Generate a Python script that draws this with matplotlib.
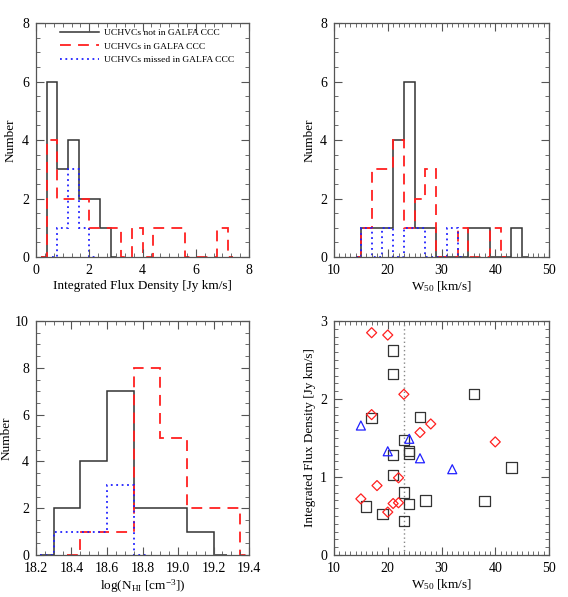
import numpy as np
import matplotlib
matplotlib.use("Agg")
import matplotlib.pyplot as plt
from matplotlib.ticker import MultipleLocator, AutoMinorLocator

plt.rcParams['font.family'] = ['Liberation Serif', 'DejaVu Serif']
plt.rcParams['mathtext.fontset'] = 'custom'
plt.rcParams['mathtext.rm'] = 'Liberation Serif'
plt.rcParams['mathtext.it'] = 'Liberation Serif:italic'

# Histogramy: (pocatek, pocty)
flux_width = 0.4
flux_black = (0.4, [6, 3, 4, 2, 2, 1])
flux_red = (0.4, [4, 2, 2, 2, 1, 1, 1, 0, 1, 0, 1, 1, 1, 0, 0, 0, 1])
flux_blue = (0.8, [1, 3, 1])

w50_width = 2.0
w50_black = (15, [1, 1, 1, 4, 6, 1, 1, 0, 0, 0, 1, 1, 0, 0, 1])
w50_red = (15, [1, 3, 3, 4, 1, 2, 3, 0, 0, 1, 0, 0, 1])
w50_blue = (15, [1, 0, 1, 0, 1, 1, 0, 0, 1])

nhi_width = 0.15
nhi_black = (18.3, [2, 4, 7, 2, 2, 1])
nhi_red = (18.45, [1, 1, 8, 5, 2, 2])
nhi_blue = (18.3, [1, 1, 3])

# Bodovy graf W50 vs. tok
sq_w50 = [21, 21, 36, 17, 26, 23, 24, 24, 21, 43, 21, 23, 27, 38, 24, 16, 19, 23]
sq_flux = [2.62, 2.32, 2.06, 1.76, 1.77, 1.47, 1.33, 1.30, 1.28, 1.12, 1.03,
           0.80, 0.70, 0.69, 0.65, 0.62, 0.53, 0.44]
dm_w50 = [17, 20, 23, 17, 28, 26, 40, 22, 18, 15, 21, 22, 20]
dm_flux = [2.85, 2.82, 2.06, 1.80, 1.68, 1.57, 1.45, 0.99, 0.89, 0.72, 0.66, 0.67, 0.55]
tr_w50 = [15, 24, 20, 26, 32]
tr_flux = [1.66, 1.49, 1.33, 1.24, 1.10]
w50_cut = 23

labels = ['UCHVCs not in GALFA CCC', 'UCHVCs in GALFA CCC', 'UCHVCs missed in GALFA CCC']

AXC = '#555555'
BLK = '#333333'
RED = '#ff2020'
BLU = '#2020ff'

styles = [
    dict(color=BLK, linestyle='-', linewidth=1.1),
    dict(color=RED, linestyle=(0, (6, 4)), linewidth=1.3),
    dict(color=BLU, linestyle=(0, (1, 2)), linewidth=1.3),
]

FS = 9.5


def draw_hist(ax, series, width, style, label=None):
    start, counts = series
    n = len(counts)
    edges = start + width * np.arange(n + 1)
    edges = np.concatenate([[start - width / 2], edges, [edges[-1] + width / 2]])
    vals = np.concatenate([[0], counts, [0]])
    ax.stairs(vals, edges, baseline=None, label=label, **style)


def style_axis(ax, xmaj, xmin_n, ymaj, ymin_n):
    ax.xaxis.set_major_locator(MultipleLocator(xmaj))
    ax.yaxis.set_major_locator(MultipleLocator(ymaj))
    ax.xaxis.set_minor_locator(AutoMinorLocator(xmin_n))
    ax.yaxis.set_minor_locator(AutoMinorLocator(ymin_n))
    ax.tick_params(which='both', direction='in', top=True, right=True,
                   color=AXC, labelsize=FS + 0.5, pad=5)
    ax.tick_params(which='major', length=6, width=0.8)
    ax.tick_params(which='minor', length=3, width=0.6)
    for s in ax.spines.values():
        s.set_color(AXC)
        s.set_linewidth(0.9)


fig = plt.figure(figsize=(5.68, 5.97), dpi=100)
W, H = 568, 597
def add_ax(x0, y0, x1, y1):
    return fig.add_axes([x0 / W, 1 - y1 / H, (x1 - x0) / W, (y1 - y0) / H])

ax1 = add_ax(36, 23, 249, 257)
ax2 = add_ax(334, 23, 549, 257)
ax3 = add_ax(36, 321, 249, 555)
ax4 = add_ax(334, 321, 549, 555)

# Panel 1
for ser, st, lb in zip([flux_black, flux_red, flux_blue], styles, labels):
    draw_hist(ax1, ser, flux_width, st, lb)
ax1.set_xlim(0, 8)
ax1.set_ylim(0, 8)
style_axis(ax1, 2, 6, 2, 4)
ax1.set_xlabel('Integrated Flux Density [Jy km/s]', fontsize=FS, labelpad=2)
ax1.set_ylabel('Number', fontsize=FS)
ax1.yaxis.set_label_coords(-0.089, 0.5)
ax1.legend(loc='upper left', bbox_to_anchor=(0.115, 0.975), frameon=False,
           fontsize=6.8, handlelength=4.1, handletextpad=0.55, labelspacing=0.5,
           borderpad=0.0, borderaxespad=0.0)

# Panel 2
for ser, st in zip([w50_black, w50_red, w50_blue], styles):
    draw_hist(ax2, ser, w50_width, st)
ax2.set_xlim(10, 50)
ax2.set_ylim(0, 8)
style_axis(ax2, 10, 10, 2, 4)
ax2.set_xlabel('W$_{50}$ [km/s]', fontsize=FS, labelpad=2)
ax2.set_ylabel('Number', fontsize=FS)
ax2.yaxis.set_label_coords(-0.084, 0.5)

# Panel 3
for ser, st in zip([nhi_black, nhi_red, nhi_blue], styles):
    draw_hist(ax3, ser, nhi_width, st)
ax3.set_xlim(18.2, 19.4)
ax3.set_ylim(0, 10)
style_axis(ax3, 0.2, 4, 2, 4)
ax3.set_xlabel('log(N$_{\\rm HI}$ [cm$^{-3}$])', fontsize=FS, labelpad=2)
ax3.set_ylabel('Number', fontsize=FS)
ax3.yaxis.set_label_coords(-0.11, 0.5)

# Panel 4
ax4.axvline(w50_cut, color='#888888', linestyle=(0, (1, 2)), linewidth=1)
ax4.scatter(sq_w50, sq_flux, marker='s', s=55, facecolors='none',
            edgecolors=BLK, linewidths=0.9, zorder=3)
ax4.scatter(dm_w50, dm_flux, marker='D', s=26, facecolors='none',
            edgecolors=RED, linewidths=0.9, zorder=3)
ax4.scatter(tr_w50, tr_flux, marker='^', s=42, facecolors='none',
            edgecolors=BLU, linewidths=0.9, zorder=3)
ax4.set_xlim(10, 50)
ax4.set_ylim(0, 3)
style_axis(ax4, 10, 10, 1, 10)
ax4.set_xlabel('W$_{50}$ [km/s]', fontsize=FS, labelpad=2)
ax4.set_ylabel('Integrated Flux Density [Jy km/s]', fontsize=FS)
ax4.yaxis.set_label_coords(-0.084, 0.5)

fig.savefig('out.png', dpi=100)
